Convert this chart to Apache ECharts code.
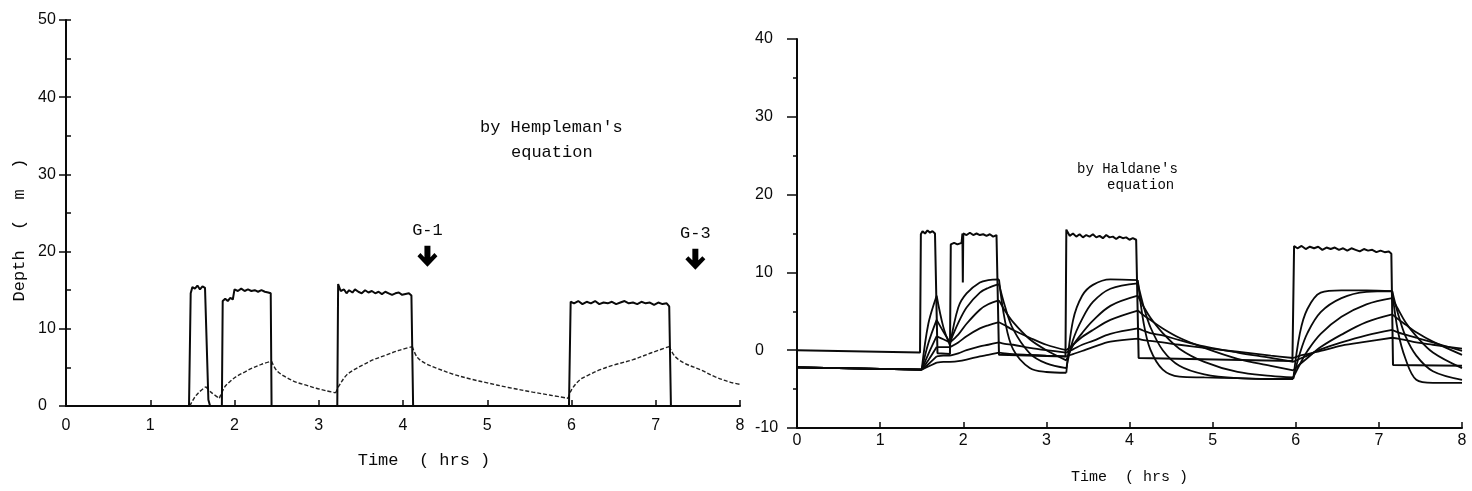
<!DOCTYPE html>
<html>
<head>
<meta charset="utf-8">
<script src="https://cdn.jsdelivr.net/npm/echarts@6/dist/echarts.min.js"></script>
<style>
  html, body { margin: 0; padding: 0; background: #fff; }
  #chart { width: 1472px; height: 491px; }
</style>
</head>
<body>
<div id="chart"></div>
<script>
// ---- Dive record: depth (m) against time (hrs), left panel ----
const DEPTH_L = [
  [0,0],[1.46,0],[1.48,14.6],[1.50,15.4],[1.53,15.2],[1.56,15.6],[1.59,15.1],[1.62,15.5],[1.65,15.3],[1.67,15.4],
  [1.69,0.8],[1.71,0],[1.85,0],[1.86,13.6],[1.89,13.9],[1.92,13.6],[1.95,14.0],[1.98,13.8],[2.00,15.1],[2.04,14.9],
  [2.08,15.2],[2.12,14.9],[2.16,15.1],[2.20,14.9],[2.24,15.0],[2.28,14.8],[2.32,15.0],[2.36,14.8],[2.40,14.7],[2.43,14.6],
  [2.44,0],[3.22,0],[3.23,15.8],[3.26,14.9],[3.30,15.1],[3.33,14.6],[3.36,15.0],[3.40,14.7],[3.43,15.1],[3.47,14.8],
  [3.51,14.6],[3.55,15.0],[3.59,14.7],[3.63,14.9],[3.67,14.6],[3.71,14.8],[3.75,14.5],[3.79,14.8],[3.83,14.6],[3.87,14.4],
  [3.91,14.6],[3.95,14.7],[3.99,14.4],[4.03,14.5],[4.07,14.6],[4.10,14.3],[4.12,0],[5.97,0],[5.99,13.5],[6.03,13.3],
  [6.08,13.6],[6.13,13.2],[6.18,13.5],[6.23,13.3],[6.28,13.6],[6.33,13.2],[6.38,13.4],[6.43,13.3],[6.48,13.5],[6.53,13.2],
  [6.58,13.4],[6.63,13.6],[6.68,13.3],[6.73,13.4],[6.78,13.2],[6.83,13.5],[6.88,13.3],[6.93,13.4],[6.98,13.1],[7.03,13.4],
  [7.08,13.2],[7.13,13.3],[7.16,12.9],[7.18,0],[8.00,0]
];

// Tissue depth by Hempleman's equation (m)
const HEMPLEMAN = [
  [1.47,0],[1.52,1.0],[1.58,1.8],[1.66,2.5],
  [1.72,1.8],[1.82,1.0],
  [1.88,2.4],[1.95,3.2],[2.02,3.8],[2.12,4.4],[2.21,4.9],[2.32,5.4],[2.44,5.8],
  [2.50,4.6],[2.60,3.8],[2.73,3.1],[2.85,2.7],[2.97,2.3],[3.08,2.0],[3.20,1.7],
  [3.24,2.6],[3.33,4.0],[3.42,4.7],[3.52,5.3],[3.65,6.0],[3.80,6.6],[3.95,7.2],[4.11,7.7],
  [4.17,6.3],[4.27,5.5],[4.40,4.9],[4.60,4.1],[4.80,3.5],[5.00,3.0],[5.25,2.4],[5.54,1.8],[5.75,1.4],[5.96,1.0],
  [6.00,2.1],[6.10,3.4],[6.20,4.0],[6.34,4.7],[6.50,5.3],[6.73,6.0],[6.95,6.9],[7.16,7.7],
  [7.23,6.4],[7.35,5.5],[7.53,4.7],[7.70,3.8],[7.88,3.1],[8.00,2.8]
];
// times where the left curve turns sharply (descents / ascents)
const HEMP_TURNS = [1.66, 1.82, 2.44, 3.20, 4.11, 5.96, 7.16];

// Gas-sample markers
const MARKERS = [
  { name: 'G-1', t: 4.29, depth: 19.4 },
  { name: 'G-3', t: 7.47, depth: 19.0 }
];

// ---- Right panel: same dive, Haldane compartments ----
const DEPTH_R = [
  [0,0],[1.48,-0.3],[1.49,14.9],[1.51,15.3],[1.54,15.0],[1.57,15.4],[1.60,15.1],[1.63,15.3],[1.66,15.0],[1.68,15.1],
  [1.69,-0.4],[1.84,-0.5],[1.85,13.6],[1.89,13.8],[1.93,13.6],[1.98,13.8],[1.99,15.0],[1.995,8.7],[2.00,15.0],[2.04,14.8],
  [2.08,15.1],[2.12,14.8],[2.16,15.0],[2.20,14.8],[2.24,14.9],[2.28,14.7],[2.32,14.9],[2.36,14.6],[2.40,14.8],[2.42,14.6],
  [2.43,-0.6],[3.23,-0.8],[3.24,15.5],[3.28,14.7],[3.32,15.0],[3.36,14.6],[3.40,14.9],[3.44,14.5],[3.48,14.8],[3.52,14.6],
  [3.56,14.9],[3.60,14.5],[3.64,14.7],[3.68,14.4],[3.72,14.8],[3.76,14.5],[3.80,14.6],[3.84,14.3],[3.88,14.6],[3.92,14.4],
  [3.96,14.5],[4.00,14.2],[4.04,14.4],[4.08,14.2],[4.10,14.1],[4.11,-1.0],[5.96,-1.4],[5.98,13.4],[6.02,13.1],[6.07,13.4],
  [6.12,13.0],[6.17,13.3],[6.22,13.1],[6.27,13.3],[6.32,12.9],[6.37,13.2],[6.42,13.0],[6.47,13.2],[6.52,12.9],[6.57,13.1],
  [6.62,12.8],[6.67,13.1],[6.72,12.9],[6.77,12.7],[6.82,13.0],[6.87,12.8],[6.92,12.9],[6.97,12.6],[7.02,12.8],[7.07,12.6],
  [7.12,12.7],[7.15,12.4],[7.17,-1.9],[8.00,-2.0]
];

const TISSUE_T = [0, 1.50, 1.58, 1.68, 1.76, 1.84, 1.94, 2.04, 2.20, 2.30, 2.43, 2.50, 2.60, 2.80, 3.00, 3.24, 3.32, 3.43, 3.56, 3.77,
  4.10, 4.17, 4.25, 4.40, 4.60, 4.90, 5.30, 5.70, 5.97, 6.05, 6.14, 6.30, 6.55, 6.85, 7.16, 7.23, 7.32, 7.45, 7.65, 8.00];
const TISSUE_1 = [-2.2, -2.5, 3.4, 7.0, 3.0, 0.6, 5.5, 7.3, 8.7, 9.0, 9.1, 3.9, 0.1, -2.3, -2.8, -2.9, 3.8, 7.0, 8.4, 9.1,
  9.0, 3.5, 0.1, -2.5, -3.4, -3.5, -3.6, -3.7, -3.7, 2.2, 5.3, 7.4, 7.7, 7.7, 7.6, 2.4, -1.1, -3.8, -4.2, -4.2];
const TISSUE_2 = [-2.2, -2.5, 0.9, 3.9, 2.4, 1.0, 3.5, 5.5, 7.4, 8.0, 8.5, 5.7, 2.7, -0.4, -1.7, -2.3, 1.3, 4.0, 6.2, 7.9,
  8.6, 5.6, 3.0, 0.0, -2.0, -3.1, -3.6, -3.7, -3.6, -0.4, 2.2, 4.9, 6.7, 7.5, 7.6, 4.7, 1.8, -0.7, -2.7, -3.8];
const TISSUE_3 = [-2.2, -2.5, -0.5, 1.8, 1.4, 1.0, 2.0, 3.4, 5.2, 5.9, 6.4, 5.1, 3.6, 1.4, 0.0, -1.3, 0.6, 2.2, 3.8, 5.7,
  7.0, 5.6, 4.2, 2.2, 0.2, -1.5, -2.8, -3.3, -3.5, -1.8, -0.1, 2.1, 4.3, 5.9, 6.7, 5.3, 3.6, 1.8, -0.3, -2.3];
const TISSUE_4 = [-2.2, -2.5, -1.3, 0.4, 0.4, 0.4, 1.0, 1.8, 2.8, 3.2, 3.6, 3.2, 2.6, 1.6, 0.7, 0.0, 0.7, 1.7, 2.6, 3.9,
  5.1, 4.5, 3.9, 2.8, 1.6, 0.3, -1.1, -2.0, -2.6, -1.8, -1.0, 0.4, 2.0, 3.6, 4.6, 4.0, 3.3, 2.3, 1.1, -0.6];
const TISSUE_5 = [-2.2, -2.5, -1.8, -0.8, -0.7, -0.7, -0.4, 0.0, 0.5, 0.7, 1.0, 0.8, 0.7, 0.3, 0.0, -0.3, 0.1, 0.7, 1.2, 2.1,
  2.8, 2.5, 2.2, 1.9, 1.3, 0.5, -0.3, -1.0, -1.5, -1.1, -0.7, 0.1, 1.0, 1.9, 2.6, 2.3, 2.0, 1.6, 1.0, -0.1];
const TISSUE_6 = [-2.2, -2.5, -2.1, -1.6, -1.5, -1.5, -1.4, -1.2, -0.8, -0.6, -0.3, -0.4, -0.5, -0.6, -0.7, -0.8, -0.5, -0.1, 0.4, 1.1,
  1.5, 1.3, 1.2, 1.0, 0.7, 0.3, -0.2, -0.7, -1.0, -0.7, -0.5, -0.1, 0.6, 1.1, 1.6, 1.5, 1.3, 1.0, 0.7, 0.2];
const TISSUES = [TISSUE_1, TISSUE_2, TISSUE_3, TISSUE_4, TISSUE_5, TISSUE_6];
// times of descent / ascent, where compartment curves change direction
const DIVE_TURNS = [1.50, 1.68, 1.84, 2.43, 3.24, 4.10, 5.97, 7.16];

const X_TICKS = [0, 1, 2, 3, 4, 5, 6, 7, 8];

// Break a curve at each turning time so that smoothing keeps the sharp corner there.
function splitAt(points, turns) {
  const out = [];
  points.forEach((p, i) => {
    out.push(p);
    if (turns.includes(p[0]) && i > 0 && i < points.length - 1) {
      out.push([p[0], '-']);
      out.push(p);
    }
  });
  return out;
}

const MONO = '"Liberation Mono", "DejaVu Sans Mono", monospace';
const SANS = '"Liberation Sans", Arial, sans-serif';
const INK = '#0a0a0a';

function xAxisFor(gridIndex, labelMargin, nameGap, fontSize, namePad) {
  return {
    type: 'value', gridIndex, min: 0, max: 8, interval: 1,
    axisLine: { onZero: false, lineStyle: { color: INK, width: 2 } },
    axisTick: { inside: true, length: 6, lineStyle: { color: INK, width: 1.5 } },
    axisLabel: { margin: labelMargin, color: INK, fontFamily: SANS, fontSize: 16,
      formatter: v => X_TICKS.includes(v) ? String(v) : '' },
    splitLine: { show: false },
    name: 'Time  ( hrs )', nameLocation: 'middle', nameGap,
    nameTextStyle: { fontFamily: MONO, fontSize, color: INK, padding: namePad }
  };
}

const chart = echarts.init(document.getElementById('chart'), null, { renderer: 'canvas' });

const tissueSeries = TISSUES.map((vals, k) => ({
  type: 'line', xAxisIndex: 1, yAxisIndex: 2, name: 'compartment ' + (k + 1),
  data: splitAt(TISSUE_T.map((t, i) => [t, vals[i]]), DIVE_TURNS),
  showSymbol: false, smooth: 0.35, connectNulls: false,
  lineStyle: { color: INK, width: 1.8 }, z: 2
}));

chart.setOption({
  animation: false,
  backgroundColor: '#fff',
  grid: [
    { left: 66, top: 20, width: 674, height: 386 },
    { left: 797, top: 39, width: 665, height: 389 }
  ],
  xAxis: [
    xAxisFor(0, 12, 46, 17, [0, 0, 0, 42]),
    xAxisFor(1, 5, 42, 15, 0)
  ],
  yAxis: [
    {
      type: 'value', gridIndex: 0, position: 'left', min: 0, max: 50, interval: 10,
      axisLine: { show: true, lineStyle: { color: INK, width: 2 } },
      axisTick: { show: true, length: 7, lineStyle: { color: INK, width: 1.5 } },
      axisLabel: { align: 'left', margin: 28, color: INK, fontFamily: SANS, fontSize: 16 },
      splitLine: { show: false },
      name: 'Depth  (  m  )', nameLocation: 'middle', nameGap: 38,
      nameTextStyle: { fontFamily: MONO, fontSize: 17, color: INK, padding: [0, 34, 0, 0] }
    },
    {
      type: 'value', gridIndex: 0, position: 'left', min: 0, max: 50, interval: 5,
      axisLine: { show: false },
      axisTick: { show: true, inside: true, length: 5, lineStyle: { color: INK, width: 1.5 } },
      axisLabel: { show: false }, splitLine: { show: false }
    },
    {
      type: 'value', gridIndex: 1, position: 'left', min: -10, max: 40, interval: 10,
      axisLine: { show: true, onZero: false, lineStyle: { color: INK, width: 2 } },
      axisTick: { show: true, length: 10, lineStyle: { color: INK, width: 1.5 } },
      minorTick: { show: true, splitNumber: 2, length: 4, lineStyle: { color: INK, width: 1.5 } },
      axisLabel: { align: 'left', margin: 42, color: INK, fontFamily: SANS, fontSize: 16 },
      splitLine: { show: false }
    }
  ],
  graphic: [
    { type: 'text', left: 480, top: 119, style: { text: "by Hempleman's", font: '17px ' + MONO, fill: INK } },
    { type: 'text', left: 511, top: 144, style: { text: 'equation', font: '17px ' + MONO, fill: INK } },
    { type: 'text', left: 1077, top: 162, style: { text: "by Haldane's", font: '14px ' + MONO, fill: INK } },
    { type: 'text', left: 1107, top: 178, style: { text: 'equation', font: '14px ' + MONO, fill: INK } }
  ],
  series: [
    {
      type: 'line', xAxisIndex: 0, yAxisIndex: 0, name: 'Hempleman',
      data: splitAt(HEMPLEMAN, HEMP_TURNS),
      showSymbol: false, smooth: 0.35, connectNulls: false,
      lineStyle: { color: '#222', width: 1.4, type: [4, 2] }, z: 2,
      markPoint: {
        symbol: 'path://M7,0 L13,0 L13,11 L17,7 L20,10 L10,20 L0,10 L3,7 L7,11 Z',
        symbolSize: [20, 21],
        itemStyle: { color: '#000' },
        label: { show: true, position: 'top', distance: 7, formatter: p => p.name,
          color: INK, fontFamily: MONO, fontSize: 17 },
        data: MARKERS.map(m => ({ name: m.name, coord: [m.t, m.depth] }))
      }
    },
    {
      type: 'line', xAxisIndex: 0, yAxisIndex: 0, name: 'depth',
      data: DEPTH_L, showSymbol: false,
      lineStyle: { color: INK, width: 2 }, z: 3
    },
    ...tissueSeries,
    {
      type: 'line', xAxisIndex: 1, yAxisIndex: 2, name: 'depth (right)',
      data: DEPTH_R, showSymbol: false,
      lineStyle: { color: INK, width: 2 }, z: 3
    }
  ]
});
</script>
</body>
</html>
